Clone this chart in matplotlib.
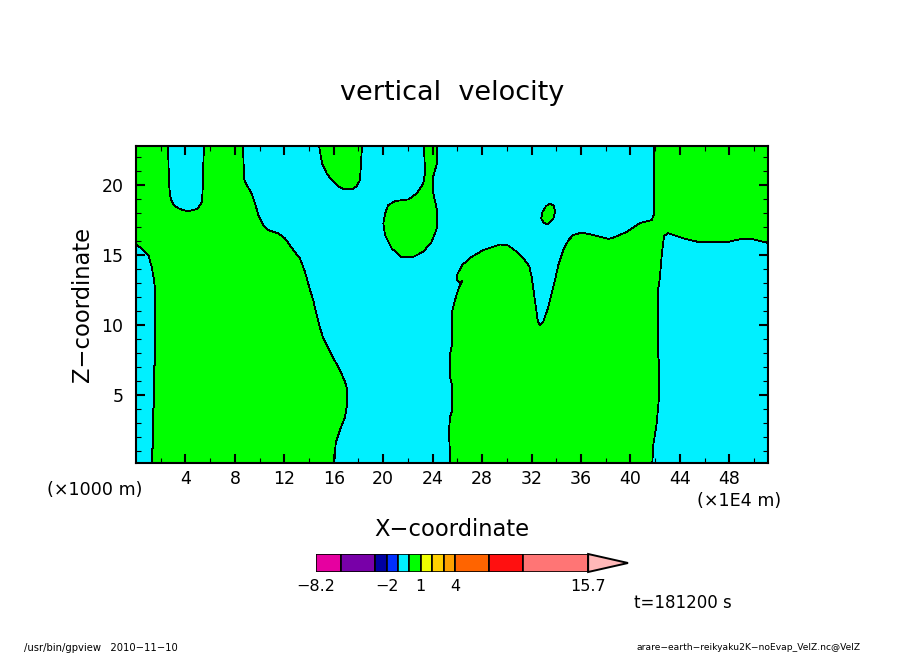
import numpy as np
from matplotlib import pyplot as plt

W, H = 904., 654.
GREEN = '#00ff00'
CYAN = '#00f0ff'

# contour of w = 0 (x in 1E4 m, z in 1000 m)
XMAX = 51.13
ZMIN = 0.14
ZMAX = 22.8

left_x = [0, 2.59, 2.67, 2.75, 2.91, 3.16, 3.56, 4.21, 4.94, 5.12, 5.34, 5.4, 5.42, 5.50,
          8.66, 8.74, 8.82, 9.36, 9.63, 9.9, 10.3, 10.7, 11.51, 12.06, 12.73, 13.27, 13.67, 14.08, 14.34,
          14.56, 14.89, 15.15, 15.83, 16.5, 16.91, 17.1, 17.1, 16.91, 16.5, 16.16, 16.04,
          1.29, 1.29, 1.38, 1.38, 1.46, 1.46, 1.56, 1.56, 1.46, 1.27, 1.0, 0.46, 0.06, 0]
left_z = [ZMAX, ZMAX, 20.14, 19.29, 18.79, 18.5, 18.29, 18.14, 18.29, 18.5, 18.79, 19.88, 20.86, ZMAX,
          ZMAX, 20.5, 20.24, 19.4, 18.69, 17.86, 17.14, 16.79, 16.55, 16.19, 15.36, 14.76, 13.81, 12.5, 11.79,
          10.93, 9.79, 9.07, 7.86, 6.79, 5.93, 5.36, 4.43, 3.43, 2.5, 1.57, ZMIN,
          ZMIN, 1.07, 1.29, 3.93, 4.29, 7.0, 7.29, 12.38, 13.21, 14.16, 15.0, 15.48, 15.71, 15.71]

top_x = [14.81, 15.05, 15.43, 15.83, 16.24, 16.77, 17.48, 17.85, 18.12, 18.2, 18.28]
top_z = [ZMAX, 21.57, 20.84, 20.36, 20.0, 19.71, 19.71, 19.93, 20.36, 21.5, ZMAX]

mid_x = [23.3, 23.38, 23.24, 22.71, 22.03, 20.95, 20.41, 20.15, 20.01, 20.15, 20.69, 21.5, 22.44, 23.24,
         23.92, 24.33, 24.35, 24.03, 24.03, 24.35, 24.35]
mid_z = [ZMAX, 20.86, 20.12, 19.4, 18.98, 18.86, 18.57, 17.98, 17.26, 16.43, 15.48, 14.84, 14.88, 15.24,
         15.95, 16.9, 18.21, 19.5, 20.57, 21.57, ZMAX]

oval_x = [33.5, 33.82, 33.9, 33.76, 33.28, 32.95, 32.79, 32.85, 33.17]
oval_z = [18.69, 18.52, 18.09, 17.62, 17.19, 17.34, 17.62, 18.02, 18.5]

right_x = [25.43, 25.32, 25.4, 25.59, 25.59, 25.43, 25.43, 25.59, 25.54, 25.81, 26.05, 26.38, 26.2, 25.97,
           25.97, 26.38, 27.16, 28.1, 29.45, 30.12, 30.8, 31.34, 31.82, 32.01, 32.36, 32.52, 32.69, 32.93,
           33.33, 33.9, 34.17, 34.57, 34.98, 35.38, 36.06, 37.27, 38.21, 38.59, 39.7, 40.78, 41.72, 41.91,
           41.93, 41.93, XMAX, XMAX, 49.92, 48.87, 47.82, 45.63, 44.26, 43.04, 42.72, 42.53, 42.39, 42.26,
           42.26, 42.34, 42.29, 42.13, 41.85, 41.77]
right_z = [ZMIN, 2.36, 3.43, 3.93, 5.57, 6.21, 8.0, 8.71, 10.86, 11.79, 12.5, 13.14, 13.0, 13.21,
           13.57, 14.29, 14.88, 15.36, 15.76, 15.69, 15.24, 14.76, 14.21, 13.45, 11.21, 10.21, 10.0, 10.21,
           11.21, 13.21, 14.29, 15.36, 16.07, 16.43, 16.62, 16.38, 16.16, 16.24, 16.66, 17.29, 17.5, 17.93,
           18.93, ZMAX, ZMAX, 15.86, 16.14, 16.14, 15.93, 15.91, 16.21, 16.57, 16.36, 15.0, 13.43, 12.64,
           7.71, 7.0, 4.64, 3.0, 1.43, ZMIN]

# colour bar
levels = [-8.2, -6, -3, -2, -1, 0, 1, 2, 3, 4, 7, 10, 15.7]
bar_colors = ['#e600a0', '#7800a8', '#0000a0', '#0030ff', '#00f0ff', '#00ff00', '#f0ff00',
              '#ffd000', '#ffa000', '#ff6400', '#ff1010', '#ff7575']
tip_color = '#ffb8b8'
tip_end = 19.2
bar_ticks = [-8.2, -2, 1, 4, 15.7]
bar_ticklabels = ['\u22128.2', '\u22122', '1', '4', '15.7']


def pxtext(x, y, s, size, **kw):
    kw.setdefault('ha', 'center')
    kw.setdefault('va', 'center')
    fig.text(x/W, 1-y/H, s, fontsize=size, color='k', **kw)


fig = plt.figure(figsize=(W/100, H/100), dpi=100, facecolor='white')

# MAIN PANEL
ax = fig.add_axes([136/W, 1-463/H, 632/W, 317/H], facecolor=CYAN)
for x, z in [(left_x, left_z), (top_x, top_z), (mid_x, mid_z), (oval_x, oval_z), (right_x, right_z)]:
    ax.fill(x, z, facecolor=GREEN, edgecolor='k', lw=0.55, zorder=1, antialiased=False)
ax.set_xlim(0, XMAX)
ax.set_ylim(ZMIN, ZMAX)
ax.set_xticks(np.arange(4, 49, 4))
ax.set_xticks(np.arange(2, 51, 2), minor=True)
ax.set_yticks([5, 10, 15, 20])
ax.set_yticks(np.arange(1, 23, 1), minor=True)
ax.tick_params(which='major', direction='in', length=6.5, width=1.5, top=True, right=True,
               labelsize=12.5)
ax.tick_params(axis='x', which='major', pad=5)
ax.tick_params(axis='y', which='major', pad=9)
ax.tick_params(which='minor', direction='in', length=3.5, width=0.8, top=True, right=True)
ax.set_axisbelow(False)
for s in ax.spines.values():
    s.set_linewidth(1.5)

# COLOUR BAR
cax = fig.add_axes([316/W, 1-572/H, 312/W, 18/H])
cax.set_xlim(levels[0], tip_end)
cax.set_ylim(0, 1)
cax.barh(0.5, np.diff(levels), left=levels[:-1], height=1, color=bar_colors, edgecolor='k', lw=1.2)
cax.fill([levels[-1], tip_end, levels[-1]], [0, 0.5, 1], facecolor=tip_color, edgecolor='k', lw=1.4,
         clip_on=False)
cax.set_xticks(bar_ticks)
cax.set_xticklabels(bar_ticklabels)
cax.set_yticks([])
cax.tick_params(axis='x', length=0, labelsize=11.5, pad=5)
for s in cax.spines.values():
    s.set_visible(False)

pxtext(452, 93, 'vertical  velocity', 19.5)
pxtext(452, 529, 'X\u2212coordinate', 16.3)
pxtext(83, 304, 'Z\u2212coordinate', 16.3, rotation=90)
pxtext(95, 490, '(\u00d71000 m)', 12.6)
pxtext(739, 501, '(\u00d71E4 m)', 12.6)
pxtext(683, 603, 't=181200 s', 12)
pxtext(101, 648, '/usr/bin/gpview   2010\u221211\u221210', 7.2)
pxtext(749, 648, 'arare\u2212earth\u2212reikyaku2K\u2212noEvap_VelZ.nc@VelZ', 6.6)

plt.savefig('out.png', dpi=100)
